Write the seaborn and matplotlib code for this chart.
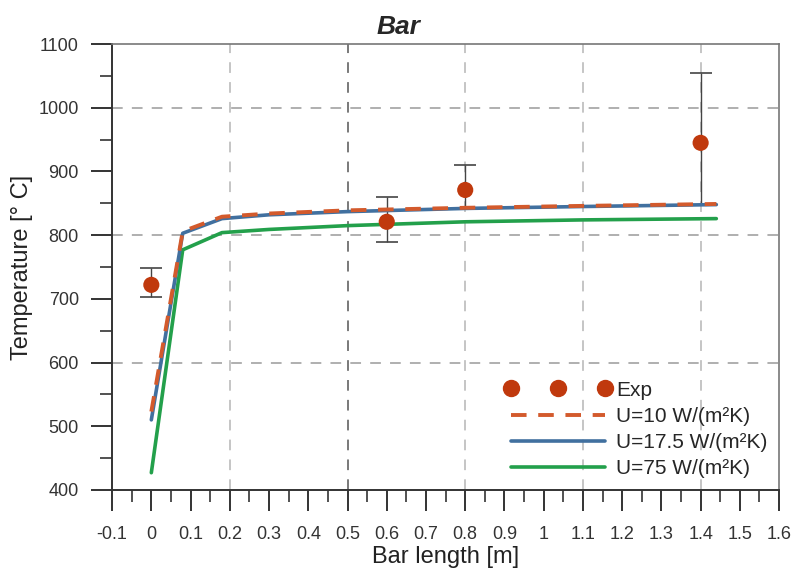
import numpy as np
import pandas as pd
import matplotlib
matplotlib.use("Agg")
import matplotlib.pyplot as plt
import seaborn as sns
from matplotlib.ticker import MultipleLocator, FixedFormatter, FixedLocator
from matplotlib.lines import Line2D

# ---- data ----
model_x = [0.0, 0.08, 0.18, 0.3, 0.5, 0.8, 1.1, 1.44]
u10 = [523, 806, 829, 834, 839, 843, 846, 849]
u175 = [510, 803, 826, 832, 837, 842, 845, 848]
u75 = [427, 777, 804, 809, 815, 821, 824, 826]

exp_x = [0.0, 0.6, 0.8, 1.4]
exp_t = [722, 821, 871, 945]
exp_hi = [748, 860, 910, 1055]
exp_lo = [703, 789, 841, 847]

series_labels = ["U=10 W/(m²K)", "U=17.5 W/(m²K)", "U=75 W/(m²K)"]
xtick_vals = [-0.1, 0, 0.1, 0.2, 0.3, 0.4, 0.5, 0.6, 0.7, 0.8, 0.9, 1, 1.1, 1.2, 1.3, 1.4, 1.5, 1.6]
xtick_labels = ["-0.1", "0", "0.1", "0.2", "0.3", "0.4", "0.5", "0.6", "0.7", "0.8",
                "0.9", "1", "1.1", "1.2", "1.3", "1.4", "1.5", "1.6"]
vgrid = [0.2, 0.5, 0.8, 1.1, 1.4]
hgrid = [600, 800, 1000]

sns.set_theme(style="white")
plt.rcParams['font.family'] = ['Liberation Sans', 'DejaVu Sans']

fig = plt.figure(figsize=(7.95, 5.73), dpi=100)
ax = fig.add_axes([0.141, 0.145, 0.839, 0.778])

# grid
for gx in vgrid:
    ax.axvline(gx, color="#555555" if gx == 0.5 else "#b5b5b5", lw=1.1,
               dashes=(7, 6), zorder=0)
for gy in hgrid:
    ax.axhline(gy, color="#9a9a9a", lw=1.1, dashes=(7, 6), zorder=0)

df = pd.DataFrame({"x": model_x, "u10": u10, "u175": u175, "u75": u75})
sns.lineplot(data=df, x="x", y="u75", ax=ax, color="#23a04b", lw=2.6, zorder=3)
sns.lineplot(data=df, x="x", y="u175", ax=ax, color="#41709f", lw=2.6, zorder=4)
sns.lineplot(data=df, x="x", y="u10", ax=ax, color="#d35a2c", lw=2.8,
             dashes=False, zorder=5)
ax.lines[-1].set_dashes((4, 3))

yerr = [np.array(exp_t) - np.array(exp_lo), np.array(exp_hi) - np.array(exp_t)]
ax.errorbar(exp_x, exp_t, yerr=yerr, fmt="none", ecolor="#444444", elinewidth=1.0,
            capsize=8, capthick=1.2, zorder=2)
sns.scatterplot(x=exp_x, y=exp_t, ax=ax, color="#c0390d", s=135, edgecolor="none",
                zorder=6)

ax.set_xlim(-0.1, 1.6)
ax.set_ylim(400, 1100)
ax.xaxis.set_major_locator(FixedLocator(xtick_vals))
ax.xaxis.set_major_formatter(FixedFormatter(xtick_labels))
ax.xaxis.set_minor_locator(MultipleLocator(0.05))
ax.yaxis.set_major_locator(MultipleLocator(100))
ax.yaxis.set_minor_locator(MultipleLocator(50))
ax.tick_params(axis="both", which="major", direction="out", length=15, width=1.4,
               color="#333333", labelsize=13, labelcolor="#333333", pad=11,
               bottom=True, left=True)
ax.tick_params(axis="both", which="minor", direction="out", length=8.5, width=1.2,
               color="#333333", bottom=True, left=True)
ax.tick_params(axis="y", which="major", pad=9)

for side in ["left", "bottom"]:
    ax.spines[side].set_color("#333333")
    ax.spines[side].set_linewidth(1.4)
for side in ["top", "right"]:
    ax.spines[side].set_color("#777777")
    ax.spines[side].set_linewidth(1.2)

ax.set_xlabel("Bar length [m]", fontsize=17, color="#222222", labelpad=2)
ax.set_ylabel("Temperature [° C]", fontsize=17, color="#222222", labelpad=4)
ax.set_title("Bar", fontsize=19, fontweight="bold", fontstyle="italic", pad=7,
             x=0.43)

handles = [
    Line2D([], [], ls="none", marker="o", color="#c0390d", markersize=11.5),
    Line2D([], [], color="#d35a2c", lw=2.8, dashes=(4, 3)),
    Line2D([], [], color="#41709f", lw=2.6),
    Line2D([], [], color="#23a04b", lw=2.6),
]
labels = ["Exp"] + series_labels
ax.legend(handles, labels, loc="lower right", bbox_to_anchor=(1.0, 0.0),
          frameon=False, numpoints=3, handlelength=5.1, handletextpad=0.25,
          labelspacing=0.35, fontsize=15, borderaxespad=0.15)

fig.savefig("out.png", dpi=100)
